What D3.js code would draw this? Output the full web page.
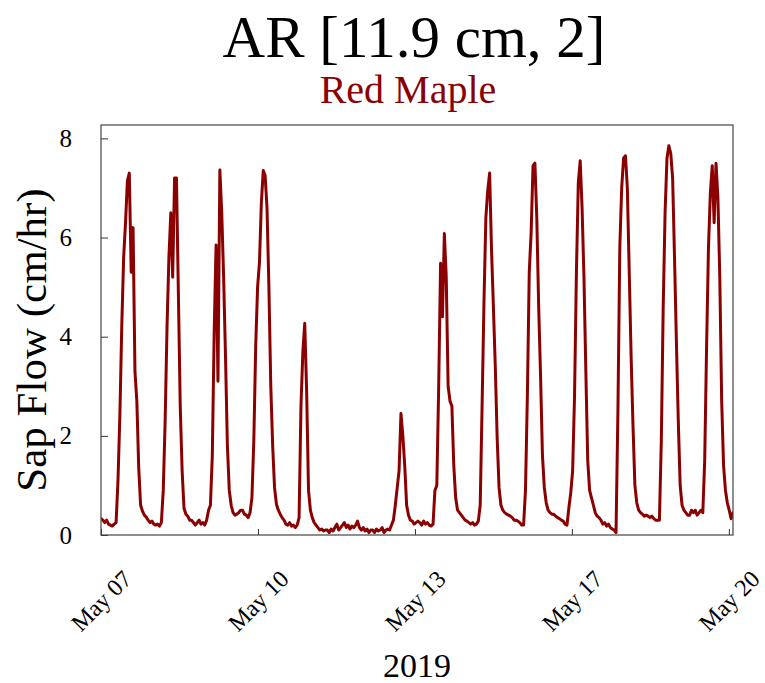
<!DOCTYPE html>
<html>
<head>
<meta charset="utf-8">
<script src="https://cdn.jsdelivr.net/npm/d3@7"></script>
<style>
  html, body { margin: 0; padding: 0; background: #ffffff; }
  svg { display: block; }
  text { font-family: "Liberation Serif", "Times New Roman", serif; fill: #000; }
</style>
</head>
<body>
<svg id="chart" width="765" height="683"></svg>
<script>
// ---------------- data ----------------
const titleText = "AR [11.9 cm, 2]";
const subtitleText = "Red Maple";
const yLabelText = "Sap Flow (cm/hr)";
const xLabelText = "2019";

// first reading (UTC), one reading per hour afterwards
const startTime = "2019-05-07T00:00:00Z";
const endTime = "2019-05-20T23:00:00Z";

// hourly sap flow (cm/hr), one row per day, May 07 .. May 20
const sapFlowByDay = [
  [0.33,0.3,0.25,0.3,0.22,0.2,0.18,0.22,0.25,1.1,2.4,4.2,5.6,6.3,7.15,7.3,5.3,6.2,3.3,2.7,1.35,0.6,0.48,0.4],      // May 07
  [0.36,0.3,0.25,0.28,0.22,0.2,0.22,0.18,0.25,0.9,2.3,4.2,5.6,6.5,5.2,7.2,7.2,4.9,2.6,1.3,0.54,0.42,0.38,0.3],     // May 08
  [0.3,0.25,0.2,0.25,0.3,0.22,0.25,0.2,0.3,0.5,0.6,1.6,4.1,5.85,3.1,7.36,6.5,5.2,3.6,1.8,0.9,0.6,0.45,0.4],        // May 09
  [0.42,0.45,0.5,0.5,0.42,0.4,0.35,0.45,0.75,1.9,3.8,5.0,5.5,6.7,7.35,7.25,6.6,5.0,3.0,1.8,0.95,0.62,0.5,0.42],    // May 10
  [0.35,0.3,0.22,0.2,0.25,0.18,0.2,0.15,0.2,0.35,2.6,3.7,4.27,2.9,0.9,0.5,0.35,0.25,0.2,0.15,0.1,0.12,0.08,0.1],   // May 11
  [0.1,0.05,0.12,0.08,0.15,0.22,0.1,0.15,0.2,0.25,0.15,0.2,0.12,0.18,0.15,0.2,0.28,0.15,0.1,0.15,0.08,0.12,0.05,0.1], // May 12
  [0.1,0.05,0.12,0.08,0.1,0.15,0.05,0.1,0.12,0.1,0.2,0.3,0.6,0.95,1.3,2.45,2.0,1.4,0.6,0.4,0.3,0.28,0.22,0.25],    // May 13
  [0.28,0.25,0.2,0.28,0.22,0.25,0.2,0.18,0.22,0.9,1.0,3.0,5.48,4.4,6.08,5.2,3.0,2.7,2.6,1.4,0.75,0.5,0.45,0.4],    // May 14
  [0.35,0.3,0.28,0.25,0.22,0.25,0.2,0.22,0.28,0.6,2.6,4.7,6.4,6.95,7.3,5.75,4.6,3.4,1.95,0.95,0.6,0.5,0.45,0.42],  // May 15
  [0.4,0.38,0.35,0.3,0.3,0.28,0.25,0.2,0.2,0.9,2.8,5.3,6.1,7.45,7.5,6.4,4.6,3.2,1.6,0.95,0.65,0.5,0.45,0.42],      // May 16
  [0.42,0.38,0.35,0.33,0.3,0.28,0.22,0.2,0.55,0.85,1.3,2.8,5.3,7.1,7.55,6.6,5.2,3.3,1.5,0.9,0.75,0.6,0.45,0.38],   // May 17
  [0.35,0.3,0.22,0.25,0.18,0.22,0.15,0.12,0.1,0.05,2.5,5.8,7.0,7.6,7.65,7.0,5.3,3.6,2.2,1.0,0.65,0.5,0.45,0.42],   // May 18
  [0.38,0.4,0.38,0.35,0.38,0.33,0.3,0.3,0.3,1.9,4.6,6.5,7.6,7.85,7.7,7.2,5.6,3.9,2.3,1.0,0.6,0.5,0.45,0.4],        // May 19
  [0.4,0.5,0.45,0.5,0.4,0.45,0.5,0.45,1.5,3.8,5.8,6.9,7.45,6.3,7.5,6.8,5.2,2.7,1.4,0.9,0.65,0.5,0.33,0.45]         // May 20
];

const yTickValues = [0, 2, 4, 6, 8];
const yMax = 8.27;
const xTickDates = ["2019-05-07T00:00:00Z", "2019-05-10T11:12:00Z", "2019-05-13T22:24:00Z", "2019-05-17T09:36:00Z", "2019-05-20T20:48:00Z"];
const xTickLabels = ["May 07", "May 10", "May 13", "May 17", "May 20"];

const lineColor = "#8b0000";

// ---------------- build ----------------
const t0 = new Date(startTime);
const points = [];
sapFlowByDay.forEach((row, d) => {
  row.forEach((v, h) => {
    points.push({ t: d3.utcHour.offset(t0, d * 24 + h), v: v });
  });
});

const svg = d3.select("#chart");
const plot = { left: 101, right: 733, top: 125, bottom: 535 };

const x = d3.scaleUtc().domain([t0, new Date(endTime)]).range([plot.left, plot.right]);
const y = d3.scaleLinear().domain([0, yMax]).range([plot.bottom, plot.top]);

svg.append("clipPath").attr("id", "clip")
  .append("rect")
  .attr("x", plot.left).attr("y", plot.top)
  .attr("width", plot.right - plot.left).attr("height", plot.bottom - plot.top);

// line
const line = d3.line().x(d => x(d.t)).y(d => y(d.v));
svg.append("path")
  .datum(points)
  .attr("clip-path", "url(#clip)")
  .attr("fill", "none")
  .attr("stroke", lineColor)
  .attr("stroke-width", 3)
  .attr("stroke-linejoin", "round")
  .attr("stroke-linecap", "round")
  .attr("d", line);

// y axis
const yAxis = svg.append("g")
  .attr("transform", `translate(${plot.left},0)`)
  .call(d3.axisLeft(y).tickValues(yTickValues).tickSize(-7).tickPadding(29).tickFormat(d3.format("d")));
yAxis.select(".domain").remove();
yAxis.selectAll(".tick line").attr("stroke", "#333").attr("stroke-width", 1);
yAxis.selectAll(".tick text")
  .style("font-family", '"Liberation Serif", serif')
  .style("font-size", "25px")
  .attr("fill", "#000");

// x axis
const tickDates = xTickDates.map(s => new Date(s));
const xAxis = svg.append("g")
  .attr("transform", `translate(0,${plot.bottom})`)
  .call(d3.axisBottom(x).tickValues(tickDates).tickSize(-6).tickFormat((d, i) => xTickLabels[i]));
xAxis.select(".domain").remove();
xAxis.selectAll(".tick line").attr("stroke", "#333").attr("stroke-width", 1);
xAxis.selectAll(".tick text")
  .attr("y", null).attr("dy", null)
  .attr("transform", "translate(0,66) rotate(-45)")
  .attr("text-anchor", "middle")
  .attr("dominant-baseline", "central")
  .style("font-family", '"Liberation Serif", serif')
  .style("font-size", "24px")
  .attr("fill", "#000");

// frame
svg.append("rect")
  .attr("x", plot.left).attr("y", plot.top)
  .attr("width", plot.right - plot.left).attr("height", plot.bottom - plot.top)
  .attr("fill", "none").attr("stroke", "#444").attr("stroke-width", 1.2);

// titles
const cx = (plot.left + plot.right) / 2;
svg.append("text").attr("x", cx - 3).attr("y", 57)
  .attr("text-anchor", "middle").style("font-size", "59px").text(titleText);
svg.append("text").attr("x", cx - 9).attr("y", 103)
  .attr("text-anchor", "middle").style("font-size", "40px").style("fill", lineColor).text(subtitleText);
svg.append("text")
  .attr("transform", `translate(46,340) rotate(-90)`)
  .attr("text-anchor", "middle").style("font-size", "43px").text(yLabelText);
svg.append("text").attr("x", cx).attr("y", 677)
  .attr("text-anchor", "middle").style("font-size", "34px").text(xLabelText);
</script>
</body>
</html>
